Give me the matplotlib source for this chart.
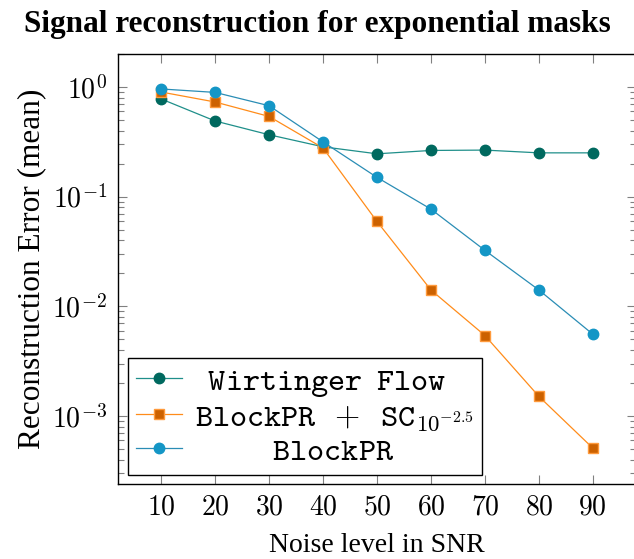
import math

import matplotlib
matplotlib.use("Agg")
import matplotlib.pyplot as plt
from matplotlib.ticker import FixedLocator, FuncFormatter, LogLocator, NullFormatter

plt.rcParams["mathtext.fontset"] = "cm"
plt.rcParams["font.family"] = "Liberation Serif"

snr = [10, 20, 30, 40, 50, 60, 70, 80, 90]
wirtinger = [0.778, 0.49, 0.367, 0.285, 0.246, 0.264, 0.266, 0.251, 0.251]
blockpr_sc = [0.90, 0.73, 0.539, 0.278, 0.0594, 0.0141, 0.00542, 0.00151, 0.00051]
blockpr = [0.96, 0.893, 0.675, 0.316, 0.150, 0.077, 0.0324, 0.0141, 0.00557]

# legend labels in typewriter math font, padded so they look centred
labels = [
    r"$\hspace{0.45}\mathtt{Wirtinger\enspace Flow}$",
    r"$\mathtt{BlockPR\enspace+\enspace SC}_{10^{-2.5}}$",
    r"$\hspace{2.7}\mathtt{BlockPR}$",
]

fig = plt.figure(figsize=(6.34, 5.59), dpi=100)
ax = fig.add_axes([118 / 634, 75 / 559, 518 / 634, 430 / 559])

ax.plot(snr, wirtinger, color="#1f8f8a", lw=0.9, marker="o", ms=7.5,
        mfc="#00695f", mec="#00695f", label=labels[0])
ax.plot(snr, blockpr_sc, color="#ff8c1a", lw=0.9, marker="s", ms=7.5,
        mfc="#cc6100", mec="#ff9a3c", mew=1.0, label=labels[1])
ax.plot(snr, blockpr, color="#2a8db5", lw=0.9, marker="o", ms=7.5,
        mfc="#1496c6", mec="#1496c6", label=labels[2])

ax.set_yscale("log")
ax.set_xlim(2, 98)
ax.set_ylim(2.4e-4, 2.0)

ax.xaxis.set_major_locator(FixedLocator(snr))
ax.xaxis.set_major_formatter(FuncFormatter(lambda v, p: f"${int(v)}$"))
ax.yaxis.set_major_locator(LogLocator(base=10, numticks=10))
ax.yaxis.set_major_formatter(
    FuncFormatter(lambda v, p: f"$10^{{{int(round(math.log10(v)))}}}$"))
ax.yaxis.set_minor_locator(LogLocator(base=10, subs=range(2, 10), numticks=20))
ax.yaxis.set_minor_formatter(NullFormatter())

ax.tick_params(which="both", direction="in", top=True, right=True, color="0.5",
               labelsize=20)
ax.tick_params(which="major", length=6.5, width=0.8, pad=8)
ax.tick_params(which="minor", length=4, width=0.8)
for s in ax.spines.values():
    s.set_linewidth(1.0)

ax.set_xlabel("Noise level in SNR", fontsize=20, labelpad=9)
ax.set_ylabel("Reconstruction Error (mean)", fontsize=22.5, labelpad=4)
fig.suptitle("Signal reconstruction for exponential masks", fontsize=22.5,
             fontweight="bold", x=0.5, y=0.982, va="top")

leg = ax.legend(loc="lower left", bbox_to_anchor=(0.019, 0.021), borderaxespad=0,
                prop={"size": 23.5}, fancybox=False,
                edgecolor="black", framealpha=1, handlelength=1.4,
                handletextpad=0.4, labelspacing=0.1, borderpad=0.25)
leg.get_frame().set_linewidth(1.0)

fig.savefig("out.png", dpi=100)
